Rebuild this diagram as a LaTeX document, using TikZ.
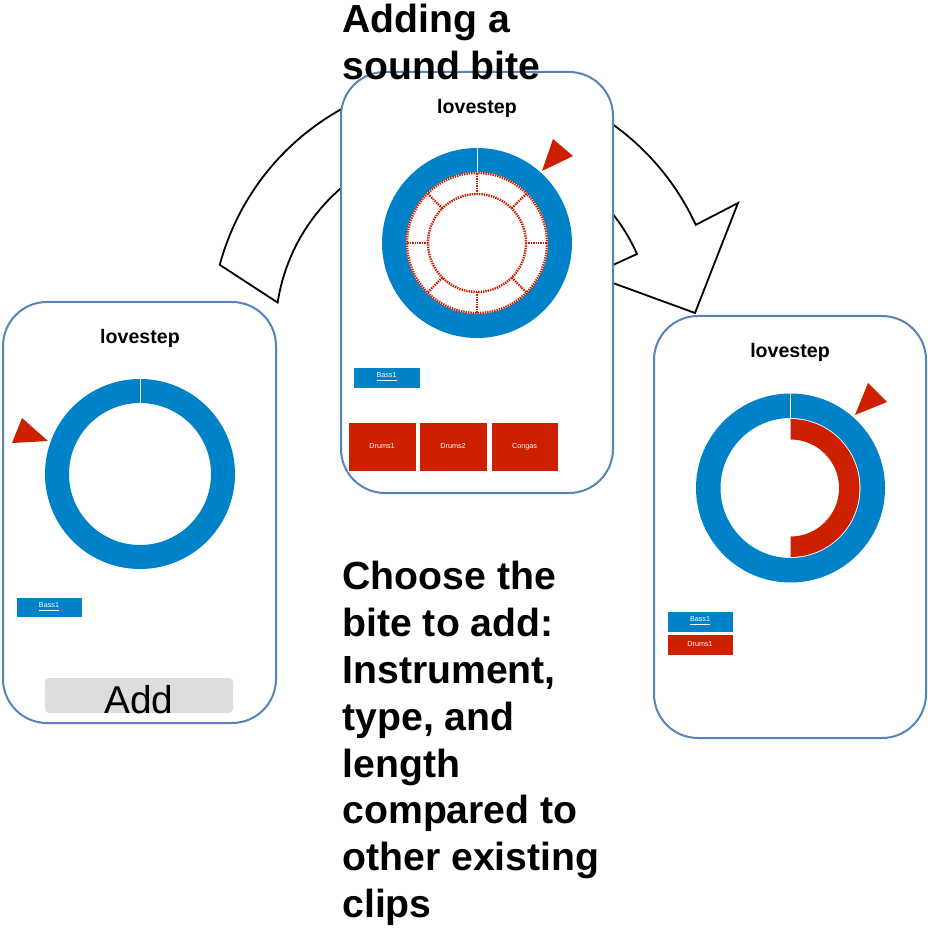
\documentclass[tikz,border=0pt]{standalone}
\usepackage{fontspec}
\setmainfont{Liberation Sans}
\usetikzlibrary{calc}

\definecolor{ringBlue}{RGB}{0,130,200}
\definecolor{biteRed}{RGB}{204,32,0}
\definecolor{phoneBlue}{RGB}{86,132,184}
\definecolor{btnGray}{RGB}{221,221,221}

\tikzset{
	phone/.style={draw=phoneBlue, line width=1pt, fill=white, rounded corners=22pt, rectangle, inner sep=0pt},
	appname/.style={font=\bfseries\fontsize{9.8}{12}\selectfont, inner sep=0pt},
	bigtext/.style={anchor=north west, align=left, inner sep=0pt, font=\bfseries\fontsize{19.6}{23.4}\selectfont},
	clipbar/.style={draw=white, line width=0.3pt, inner sep=0pt, text=white, font=\fontsize{3.6}{4}\selectfont},
	pointer/.style={fill=biteRed},
	slot/.style={draw=biteRed, line width=1.2pt, dash pattern=on 0.7pt off 0.5pt}
}

\begin{document}
\begin{tikzpicture}[x=0.5pt, y=-0.5pt]
			\useasboundingbox (0,0) rectangle (927,930);
			
			%Curved arrow behind the screens
			\coordinate (arcCenter) at (465,331);
			\draw[line width=0.9pt, fill=white] ([shift={(195.1:254)}]arcCenter) coordinate (tailOut)
			arc[start angle=195.1, end angle=335.3, radius=254] -- (738,203) coordinate (headOut)
			-- (695,313) coordinate (headTip) -- (591,275) coordinate (headIn) -- (637,254)
			arc[start angle=335.9, end angle=188.7, radius=189] -- cycle;
			
			%Left screen
			\node (leftPhone) at (139.5,512.5) [phone, minimum width=136.5pt, minimum height=210.5pt]{};
			\node (leftName) at (140,338) [appname]{lovestep};
			\coordinate (leftRing) at (140,474);
			\fill[ringBlue, even odd rule] (leftRing) circle[radius=95] (leftRing) circle[radius=71];
			\draw[white, line width=0.4pt] ([shift={(-90:71)}]leftRing) -- ([shift={(-90:95)}]leftRing);
			\fill[pointer] (22,418) -- (12,443) -- (48,441) -- cycle;
			\node (leftBass) at (49,607) [clipbar, fill=ringBlue, minimum width=33pt, minimum height=10pt]{\underline{Bass1}};
			\node (addButton) at (139,695.5) [fill=btnGray, rounded corners=2pt, minimum width=94pt, minimum height=17.5pt, inner sep=0pt]{};
			\node (addText) at (139,713) [anchor=base, inner sep=0pt, font=\fontsize{19.4}{22}\selectfont]{Add};
			
			%Middle screen
			\node (midPhone) at (477,282.5) [phone, minimum width=136pt, minimum height=210.5pt]{};
			\node (midName) at (477,108) [appname]{lovestep};
			\coordinate (midRing) at (477,243);
			\fill[ringBlue, even odd rule] (midRing) circle[radius=95] (midRing) circle[radius=71];
			\draw[white, line width=0.4pt] ([shift={(-90:71)}]midRing) -- ([shift={(-90:95)}]midRing);
			\draw[slot] (midRing) circle[radius=70];
			\draw[slot] (midRing) circle[radius=49];
			\foreach \a in {0,45,...,315}
			\draw[slot] ([shift={(\a:49)}]midRing) -- ([shift={(\a:70)}]midRing);
			\fill[pointer] (553,139) -- (573,156) -- (542,171) -- cycle;
			\node (midBass) at (386.5,377.5) [clipbar, fill=ringBlue, minimum width=33.5pt, minimum height=10.5pt]{\underline{Bass1}};
			\node (drumsOne) at (382,446.5) [clipbar, fill=biteRed, minimum width=34pt, minimum height=24.5pt]{Drums1};
			\node (drumsTwo) at (453,446.5) [clipbar, fill=biteRed, minimum width=34pt, minimum height=24.5pt]{Drums2};
			\node (congas) at (524.5,446.5) [clipbar, fill=biteRed, minimum width=33.5pt, minimum height=24.5pt]{Congas};
			
			%Right screen
			\node (rightPhone) at (790,527) [phone, minimum width=136pt, minimum height=211pt]{};
			\node (rightName) at (790,352) [appname]{lovestep};
			\coordinate (rightRing) at (790.5,488);
			\fill[ringBlue, even odd rule] (rightRing) circle[radius=94.5] (rightRing) circle[radius=70];
			\draw[white, line width=0.4pt] ([shift={(-90:70)}]rightRing) -- ([shift={(-90:94.5)}]rightRing);
			\begin{scope}
				\clip (790.5,380) rectangle (900,600);
				\fill[biteRed, even odd rule] (rightRing) circle[radius=69] (rightRing) circle[radius=48.5];
			\end{scope}
			\fill[pointer] (868,383) -- (887,402) -- (855,415) -- cycle;
			\node (rightBass) at (700,621.5) [clipbar, fill=ringBlue, minimum width=33pt, minimum height=10.5pt]{\underline{Bass1}};
			\node (rightDrums) at (700,644.5) [clipbar, fill=biteRed, minimum width=33pt, minimum height=10.5pt]{Drums1};
			
			%Captions
			\node (title) at (342,4) [bigtext]{Adding a\\sound bite};
			\node (howTo) at (342,561) [bigtext]{Choose the\\bite to add:\\Instrument,\\type, and\\length\\compared to\\other existing\\clips};
			
\end{tikzpicture}
\end{document}
